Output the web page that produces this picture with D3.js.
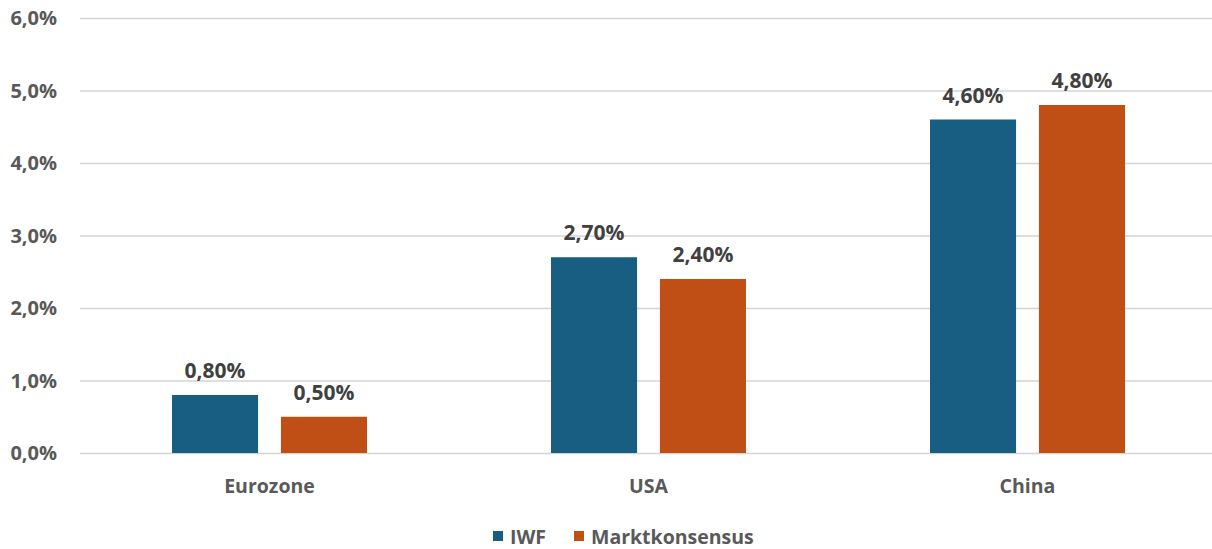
<html>
<head>
<script src="https://d3js.org/d3.v7.min.js"></script>
<style>
  body { margin: 0; background: #fff; }
  svg text { font-family: "Open Sans", sans-serif; font-weight: bold; fill: #595959; }
</style>
</head>
<body>
<svg width="1212" height="549"></svg>
<script>
const regions = ["Eurozone", "USA", "China"]
const seriesNames = ["IWF", "Marktkonsensus"]
const iwf = [0.8, 2.7, 4.6]
const konsens = [0.5, 2.4, 4.8]
const yTicks = [0, 1, 2, 3, 4, 5, 6]
const colors = ["#175e82", "#c04f15"]

const svg = d3.select("svg")
const x = d3.scaleBand().domain(regions).range([80, 1217])
const inner = d3.scaleBand().domain(seriesNames).range([0, 195]).paddingInner(0.21)
const y = d3.scaleLinear().domain([0, 6]).range([453, 18])
const fmtTick = v => d3.format(".1f")(v).replace(".", ",") + "%"
const fmtLab = v => d3.format(".2f")(v).replace(".", ",") + "%"

// grid
svg.append("g").selectAll("line").data(yTicks).enter().append("line")
  .attr("x1", 80).attr("x2", 1212)
  .attr("y1", d => y(d) + 0.5).attr("y2", d => y(d) + 0.5)
  .attr("stroke", "#d4d4d4").attr("stroke-width", 1.5)

// y axis labels
svg.append("g").selectAll("text").data(yTicks).enter().append("text")
  .attr("x", 57).attr("y", d => y(d)).attr("dy", "0.35em")
  .attr("text-anchor", "end").style("font-size", "20px")
  .text(fmtTick)

const series = [iwf, konsens]
series.forEach((vals, s) => {
  const g = svg.append("g")
  const off = d => x(d) + x.bandwidth() / 2 - 97.5 + inner(seriesNames[s])
  g.selectAll("rect").data(regions).enter().append("rect")
    .attr("x", d => off(d))
    .attr("width", inner.bandwidth())
    .attr("y", (d, i) => y(vals[i]))
    .attr("height", (d, i) => y(0) - y(vals[i]))
    .attr("fill", colors[s])
  g.selectAll("text").data(regions).enter().append("text")
    .attr("x", d => off(d) + inner.bandwidth() / 2)
    .attr("y", (d, i) => y(vals[i]) - 17)
    .attr("text-anchor", "middle").style("font-size", "21px")
    .style("fill", "#404040")
    .text((d, i) => fmtLab(vals[i]))
})

// category labels
svg.append("g").selectAll("text").data(regions).enter().append("text")
  .attr("x", d => x(d) + x.bandwidth() / 2).attr("y", 493)
  .attr("text-anchor", "middle").style("font-size", "19.5px")
  .text(d => d)

// legend
const leg = svg.append("g")
const legX = [493, 574]
seriesNames.forEach((n, i) => {
  leg.append("rect").attr("x", legX[i]).attr("y", 531).attr("width", 10).attr("height", 10).attr("fill", colors[i])
  leg.append("text").attr("x", legX[i] + 17).attr("y", 537).attr("dy", "0.35em")
    .style("font-size", "19.5px").text(n)
})
</script>
</body>
</html>
